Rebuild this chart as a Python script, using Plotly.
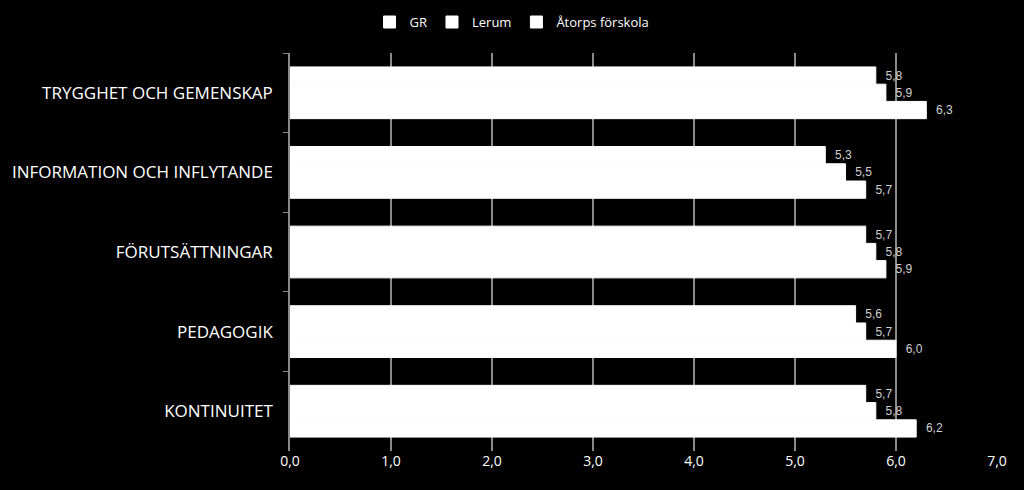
import plotly.graph_objects as go

# data
kategorier = ['TRYGGHET OCH GEMENSKAP', 'INFORMATION OCH INFLYTANDE',
              'FÖRUTSÄTTNINGAR', 'PEDAGOGIK', 'KONTINUITET']
serier = ['GR', 'Lerum', 'Åtorps förskola']
gr = [5.8, 5.3, 5.7, 5.6, 5.7]
lerum = [5.9, 5.5, 5.8, 5.7, 5.8]
atorp = [6.3, 5.7, 5.9, 6.0, 6.2]
x_ticks = [0, 1, 2, 3, 4, 5, 6, 7]

grid = '#8a8a8a'

fig = go.Figure()
for namn, varden in zip(serier, [gr, lerum, atorp]):
    fig.add_trace(go.Bar(y=kategorier, x=varden, name=namn, orientation='h',
                         marker=dict(color='white', line=dict(width=1, color='white')),
                         texttemplate='\u00a0\u00a0%{x:.1f}', textposition='outside',
                         textfont=dict(family='Liberation Sans', size=12, color='#d0d0d0'),
                         cliponaxis=False))

fig.update_layout(
    width=1024, height=490,
    paper_bgcolor='black', plot_bgcolor='black',
    separators=', ',
    barmode='group', bargap=0.35, bargroupgap=0,
    margin=dict(l=290, r=27, t=53, b=39),
    font=dict(family='Open Sans', color='white'),
    legend=dict(orientation='h', xref='container', x=0.5, xanchor='center',
                yref='container', y=0.955, yanchor='middle',
                font=dict(size=13, color='white'), itemwidth=30,
                tracegroupgap=0),
)

fig.update_xaxes(range=[0, 7], tickvals=x_ticks, tickformat='.1f',
                 showgrid=True, gridcolor=grid, gridwidth=1.5, zeroline=False,
                 ticks='', tickfont=dict(size=14, color='white'), showline=False)
fig.update_yaxes(autorange='reversed', tickson='boundaries', ticks='outside',
                 ticklen=5, tickcolor=grid, showline=True, linecolor=grid,
                 linewidth=1.5, showgrid=False,
                 tickfont=dict(size=17, color='white'), ticklabelstandoff=12)

# ta bort sidans standardmarginal så att figuren fyller fönstret
fig.write_html('out.html', config={'displayModeBar': False},
               post_script="document.body.style.margin='0';document.body.style.background='black';")
